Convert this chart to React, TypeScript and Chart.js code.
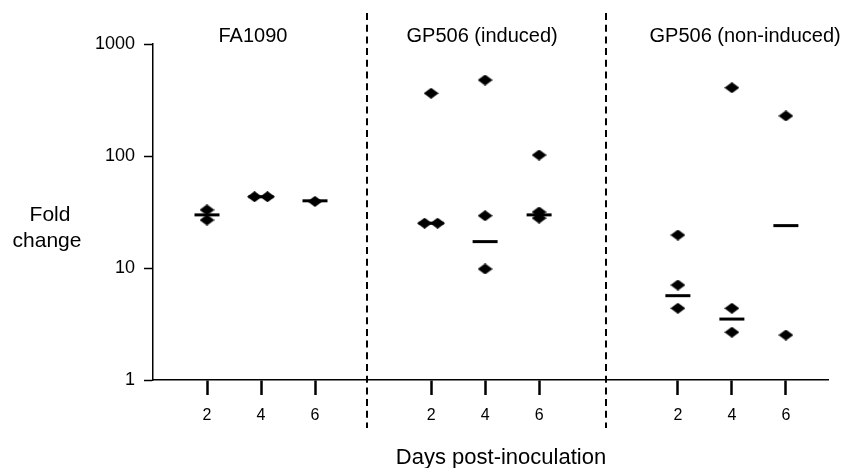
import React, { useEffect, useRef } from "react";
import { Chart, registerables } from "chart.js";

Chart.register(...registerables);

// ---------- data ----------
const groupNames = ["FA1090", "GP506 (induced)", "GP506 (non-induced)"];
const days = [2, 4, 6];
// individual fold-change values per day (2, 4, 6)
const fa1090Values = [[33, 26.8], [43.3, 43.3], [39.3]];
const inducedValues = [[363, 25.1, 25.1], [477, 29.3, 9.8], [102, 31.6, 27.9]];
const nonInducedValues = [[19.7, 7.05, 4.37], [407, 4.37, 2.67], [228, 2.52]];
// medians per day
const fa1090Medians = [29.8, 43.3, 39.8];
const inducedMedians = [25.1, 17.2, 29.8];
const nonInducedMedians = [5.66, 3.5, 23.9];
const yTickValues = [1, 10, 100, 1000];
const yTitleLines = ["Fold", "change"];
const xTitle = "Days post-inoculation";

// ---------- layout (axis units) ----------
const groupOffsets = [0, 8.3, 17.44];
const dividerPositions = [7.93, 16.78];
const titleCenters = [3.7, 12.19, 21.93];
const dodge = 0.24;

const FONT = "'Liberation Sans', Arial, Helvetica, sans-serif";

export default function App() {
  const canvasRef = useRef<HTMLCanvasElement | null>(null);

  useEffect(() => {
    const canvas = canvasRef.current;
    if (!canvas) return;

    const allValues = [fa1090Values, inducedValues, nonInducedValues];
    const allMedians = [fa1090Medians, inducedMedians, nonInducedMedians];

    const points: { x: number; y: number }[] = [];
    const medians: { x: number; y: number }[] = [];
    const tickPositions: number[] = [];
    const tickLabels: Record<string, string> = {};

    allValues.forEach((groupVals, g) => {
      days.forEach((d, di) => {
        const cx = groupOffsets[g] + d;
        tickPositions.push(cx);
        tickLabels[cx.toFixed(3)] = String(d);
        const vals = groupVals[di];
        vals.forEach((v, i) => {
          const count = vals.filter((w) => w === v).length;
          let x = cx;
          if (count > 1) {
            const k = vals.slice(0, i).filter((w) => w === v).length;
            x = cx + (k - (count - 1) / 2) * 2 * dodge;
          }
          points.push({ x, y: v });
        });
        medians.push({ x: cx, y: allMedians[g][di] });
      });
    });

    // flattened diamond marker
    const diamond = document.createElement("canvas");
    diamond.width = 15;
    diamond.height = 11;
    const dctx = diamond.getContext("2d")!;
    dctx.fillStyle = "#000";
    dctx.beginPath();
    dctx.moveTo(7.5, 0);
    dctx.lineTo(15, 5.5);
    dctx.lineTo(7.5, 11);
    dctx.lineTo(0, 5.5);
    dctx.closePath();
    dctx.fill();

    const textPlugin = {
      id: "annot",
      afterDraw(chart: any) {
        const ctx = chart.ctx as CanvasRenderingContext2D;
        const xs = chart.scales.x;
        ctx.save();
        // dashed dividers
        ctx.strokeStyle = "#000";
        ctx.lineWidth = 2;
        ctx.setLineDash([7, 4.7]);
        dividerPositions.forEach((p) => {
          const px = Math.round(xs.getPixelForValue(p));
          ctx.beginPath();
          ctx.moveTo(px, 13);
          ctx.lineTo(px, 428);
          ctx.stroke();
        });
        ctx.setLineDash([]);
        ctx.fillStyle = "#000";
        // group titles
        ctx.font = `20px ${FONT}`;
        ctx.textAlign = "center";
        ctx.textBaseline = "alphabetic";
        groupNames.forEach((n, i) => {
          ctx.fillText(n, xs.getPixelForValue(titleCenters[i]), 42);
        });
        // y title
        ctx.font = `21px ${FONT}`;
        ctx.fillText(yTitleLines[0], 50, 221);
        ctx.fillText(yTitleLines[1], 47, 247);
        // x title
        ctx.font = `22px ${FONT}`;
        ctx.fillText(xTitle, 501, 464);
        ctx.restore();
      },
    };

    const chart = new Chart(canvas, {
      type: "scatter",
      data: {
        datasets: [
          {
            label: "values",
            data: points,
            pointStyle: diamond as any,
            pointRadius: 7,
            pointHoverRadius: 7,
            backgroundColor: "#000",
            borderColor: "#000",
          },
          {
            label: "median",
            data: medians,
            pointStyle: "line",
            pointRadius: 12.5,
            pointHoverRadius: 12.5,
            borderWidth: 3,
            pointBorderWidth: 3,
            borderColor: "#000",
            backgroundColor: "#000",
          } as any,
        ],
      },
      plugins: [textPlugin],
      options: {
        responsive: false,
        animation: false,
        devicePixelRatio: 1,
        layout: { padding: { left: 0, top: 44, right: 16, bottom: 0 } },
        plugins: {
          legend: { display: false },
          tooltip: { enabled: false },
          title: { display: false },
        },
        events: [],
        scales: {
          x: {
            type: "linear",
            min: 0,
            max: 25,
            afterBuildTicks: (scale: any) => {
              scale.ticks = tickPositions.map((v) => ({ value: v }));
            },
            afterFit: (scale: any) => {
              scale.height = 88;
            },
            ticks: {
              autoSkip: false,
              maxRotation: 0,
              padding: 11,
              color: "#000",
              font: { family: FONT, size: 16 },
              callback: (v: any) => tickLabels[Number(v).toFixed(3)] ?? "",
            },
            grid: {
              drawOnChartArea: false,
              drawTicks: true,
              tickLength: 15,
              tickWidth: 2.5,
              tickColor: "#000",
            },
            border: { display: true, color: "#000", width: 1.5 },
          },
          y: {
            type: "logarithmic",
            min: 1,
            max: 1000,
            afterBuildTicks: (scale: any) => {
              scale.ticks = yTickValues.map((v) => ({ value: v }));
            },
            afterFit: (scale: any) => {
              scale.width = 153;
            },
            ticks: {
              padding: 9,
              color: "#000",
              font: { family: FONT, size: 18 },
              callback: (v: any) => String(v),
            },
            grid: {
              drawOnChartArea: false,
              drawTicks: true,
              tickLength: 9,
              tickWidth: 1.5,
              tickColor: "#000",
            },
            border: { display: true, color: "#000", width: 1.5 },
          },
        },
      } as any,
    });

    return () => {
      chart.destroy();
    };
  }, []);

  return (
    <div style={{ position: "absolute", left: 0, top: 0, width: 844, height: 468, background: "#fff" }}>
      <canvas ref={canvasRef} width={844} height={468} style={{ width: 844, height: 468, display: "block" }} />
    </div>
  );
}
